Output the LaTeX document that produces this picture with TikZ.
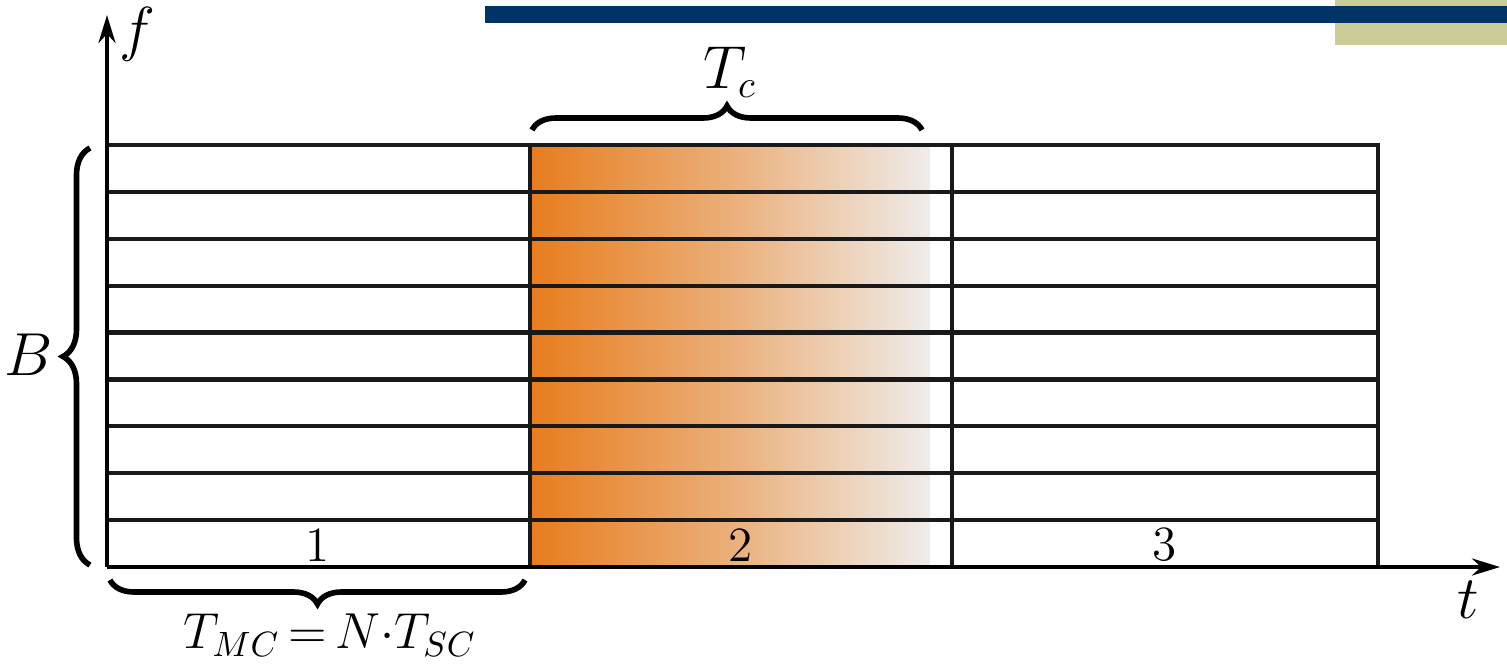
\documentclass[tikz,border=0pt]{standalone}
\usepackage{xcolor}
\usepackage{tikz}
\usetikzlibrary{arrows.meta,decorations.pathreplacing}

\definecolor{chanorange}{RGB}{232,125,30}
\definecolor{chanfade}{RGB}{238,236,234}
\definecolor{barnavy}{RGB}{0,51,102}
\definecolor{barkhaki}{RGB}{204,204,153}

\begin{document}
\begin{tikzpicture}[
    gridline/.style={line width=1.2pt, draw=black!90},
    axisline/.style={line width=1.2pt, -{Stealth[length=0.28cm,width=0.17cm]}},
    bracebig/.style={line width=1.6pt, decorate, decoration={brace, amplitude=0.24cm}},
    lbl/.style={font=\fontsize{16}{18}\selectfont},
    eqlbl/.style={font=\fontsize{14}{16}\selectfont},
    num/.style={font=\fontsize{14}{16}\selectfont}
]
\useasboundingbox (-1.07,-0.96) rectangle (14.00,5.67);

% header bar
\fill[barkhaki] (12.28,5.22) rectangle (14.00,5.67);
\fill[barnavy] (3.78,5.44) rectangle (14.00,5.61);

% faded channel block
\shade[left color=chanorange, right color=chanfade, middle color=chanorange!55!chanfade] (4.25,0) rectangle (8.23,4.22);

% grid
\coordinate (o) at (0,0);
\coordinate (tl) at (0,4.22);
\coordinate (tr) at (12.71,4.22);
\coordinate (br) at (12.71,0);
\foreach \k in {1,...,8}
  \draw[gridline] (0,0.469*\k) -- (12.71,0.469*\k);
\draw[gridline] (tl) -- (tr) -- (br);
\draw[gridline] (4.23,0) -- (4.23,4.22);
\draw[gridline] (8.45,0) -- (8.45,4.22);

% axes
\coordinate (ftip) at (0,5.52);
\coordinate (ttip) at (13.93,0);
\draw[axisline] (o) -- (ftip);
\draw[axisline] (o) -- (ttip);
\node[lbl] (flbl) at (0.30,5.33) {$f$};
\node[lbl] (tlbl) at (13.61,-0.33) {$t$};

% slot numbers
\node[num] (n1) at (2.11,0.22) {1};
\node[num] (n2) at (6.34,0.22) {2};
\node[num] (n3) at (10.58,0.22) {3};

% braces
\draw[bracebig] (4.25,4.37) -- (8.15,4.37);
\node[lbl] (tc) at (6.23,4.95) {$T_c$};
\draw[bracebig, decoration={amplitude=0.27cm}] (-0.17,0.02) -- (-0.17,4.19);
\node[lbl] (bw) at (-0.78,2.12) {$B$};
\draw[bracebig] (4.18,-0.13) -- (0.03,-0.13);
\node[eqlbl] (tmc) at (2.23,-0.68) {$T_{MC}\,{=}\,N{\cdot}T_{SC}$};
\end{tikzpicture}
\end{document}
